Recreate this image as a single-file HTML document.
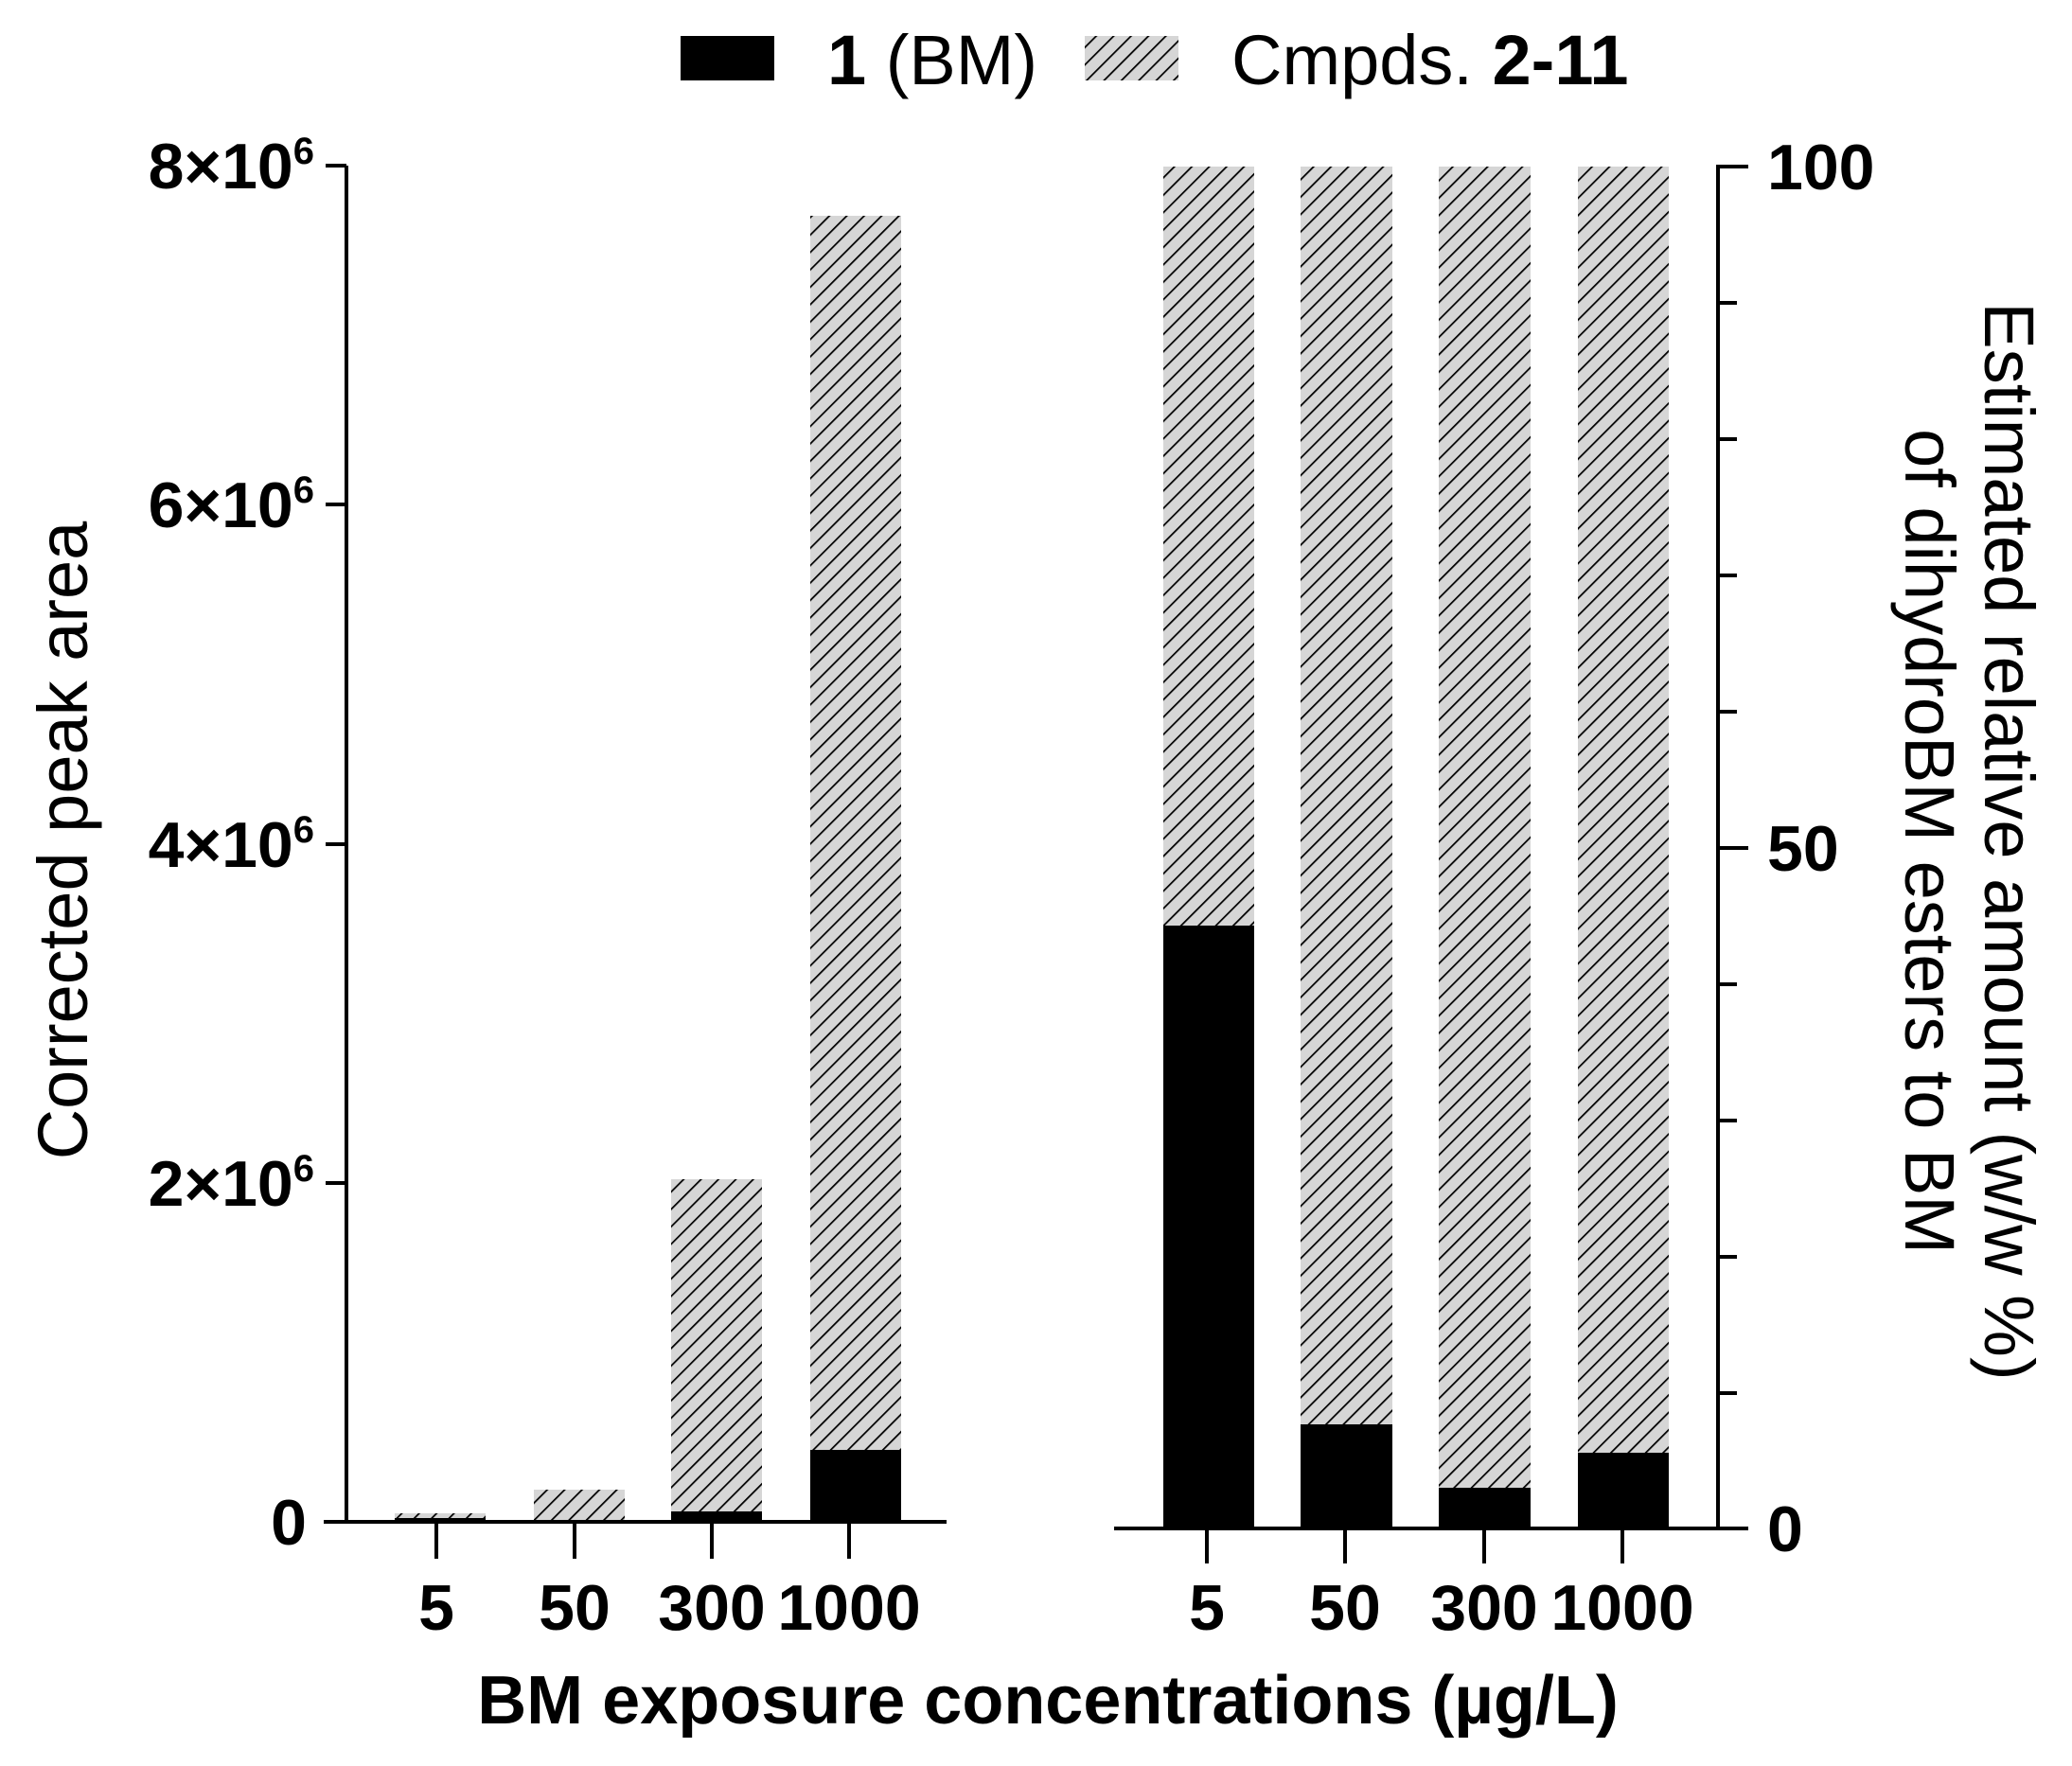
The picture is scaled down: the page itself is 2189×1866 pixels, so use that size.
<!DOCTYPE html>
<html><head><meta charset="utf-8"><style>
html,body{margin:0;padding:0;background:#fff;}
svg{display:block;}
text{font-family:"Liberation Sans Narrow","Liberation Sans",sans-serif;fill:#000;}
</style></head><body>
<svg width="2189" height="1866" viewBox="0 0 2189 1866" xmlns="http://www.w3.org/2000/svg">
<defs>
<pattern id="h" patternUnits="userSpaceOnUse" width="13" height="13" patternTransform="rotate(45)">
<rect width="13" height="13" fill="#d6d6d6"/>
<line x1="0" y1="0" x2="0" y2="13" stroke="#000" stroke-width="3.5"/>
</pattern>
</defs>

<!-- Legend -->
<rect x="719" y="38" width="99" height="47" fill="#000"/>
<text x="874" y="89" font-size="74"><tspan font-weight="bold">1</tspan> (BM)</text>
<rect x="1146" y="38" width="99" height="47" fill="url(#h)"/>
<text x="1301" y="89" font-size="74">Cmpds. <tspan font-weight="bold">2-11</tspan></text>

<!-- Left panel bars -->
<rect x="417" y="1599" width="96" height="8" fill="url(#h)"/>
<rect x="417" y="1604" width="96" height="3" fill="#000"/>
<rect x="564" y="1574" width="96" height="33" fill="url(#h)"/>
<rect x="709" y="1246" width="96" height="361" fill="url(#h)"/>
<rect x="709" y="1597" width="96" height="10" fill="#000"/>
<rect x="856" y="228" width="96" height="1379" fill="url(#h)"/>
<rect x="856" y="1532" width="96" height="75" fill="#000"/>

<!-- Left axes -->
<g stroke="#000" stroke-width="4" fill="none">
<line x1="366" y1="175" x2="366" y2="1609"/>
<line x1="342" y1="1608" x2="1000" y2="1608"/>
<line x1="344" y1="175" x2="366" y2="175"/>
<line x1="344" y1="533" x2="366" y2="533"/>
<line x1="344" y1="892" x2="366" y2="892"/>
<line x1="344" y1="1250" x2="366" y2="1250"/>
<line x1="461" y1="1608" x2="461" y2="1647"/>
<line x1="607" y1="1608" x2="607" y2="1647"/>
<line x1="752" y1="1608" x2="752" y2="1647"/>
<line x1="897" y1="1608" x2="897" y2="1647"/>
</g>
<g font-size="68" font-weight="bold" text-anchor="end">
<text x="332" y="199">8×10<tspan font-size="40" dy="-26">6</tspan></text>
<text x="332" y="557">6×10<tspan font-size="40" dy="-26">6</tspan></text>
<text x="332" y="916">4×10<tspan font-size="40" dy="-26">6</tspan></text>
<text x="332" y="1274">2×10<tspan font-size="40" dy="-26">6</tspan></text>
<text x="324" y="1632">0</text>
</g>
<g font-size="68" font-weight="bold" text-anchor="middle">
<text x="461" y="1722">5</text>
<text x="607" y="1722">50</text>
<text x="752" y="1722">300</text>
<text x="897" y="1722">1000</text>
</g>
<text transform="translate(92,888) rotate(-90)" font-size="74" text-anchor="middle">Corrected peak area</text>

<!-- Right panel bars -->
<rect x="1229" y="176" width="96" height="1439" fill="url(#h)"/>
<rect x="1229" y="978" width="96" height="637" fill="#000"/>
<rect x="1374" y="176" width="97" height="1439" fill="url(#h)"/>
<rect x="1374" y="1505" width="97" height="110" fill="#000"/>
<rect x="1520" y="176" width="97" height="1439" fill="url(#h)"/>
<rect x="1520" y="1572" width="97" height="43" fill="#000"/>
<rect x="1667" y="176" width="96" height="1439" fill="url(#h)"/>
<rect x="1667" y="1535" width="96" height="80" fill="#000"/>

<g stroke="#000" stroke-width="4" fill="none">
<line x1="1815" y1="174" x2="1815" y2="1616"/>
<line x1="1177" y1="1615" x2="1847" y2="1615"/>
<line x1="1815" y1="176" x2="1847" y2="176"/>
<line x1="1815" y1="896" x2="1847" y2="896"/>
<line x1="1815" y1="320" x2="1835" y2="320"/>
<line x1="1815" y1="464" x2="1835" y2="464"/>
<line x1="1815" y1="608" x2="1835" y2="608"/>
<line x1="1815" y1="752" x2="1835" y2="752"/>
<line x1="1815" y1="1040" x2="1835" y2="1040"/>
<line x1="1815" y1="1184" x2="1835" y2="1184"/>
<line x1="1815" y1="1328" x2="1835" y2="1328"/>
<line x1="1815" y1="1472" x2="1835" y2="1472"/>
<line x1="1275" y1="1615" x2="1275" y2="1652"/>
<line x1="1421" y1="1615" x2="1421" y2="1652"/>
<line x1="1568" y1="1615" x2="1568" y2="1652"/>
<line x1="1714" y1="1615" x2="1714" y2="1652"/>
</g>
<g font-size="68" font-weight="bold">
<text x="1867" y="200">100</text>
<text x="1867" y="920">50</text>
<text x="1867" y="1639">0</text>
</g>
<g font-size="68" font-weight="bold" text-anchor="middle">
<text x="1275" y="1722">5</text>
<text x="1421" y="1722">50</text>
<text x="1568" y="1722">300</text>
<text x="1714" y="1722">1000</text>
</g>
<text transform="translate(2097,889) rotate(90)" font-size="74" text-anchor="middle">Estimated relative amount (w/w %)</text>
<text transform="translate(2013,889) rotate(90)" font-size="74" text-anchor="middle">of dihydroBM esters to BM</text>

<text x="1107" y="1821" font-size="72" font-weight="bold" text-anchor="middle">BM exposure concentrations (µg/L)</text>
</svg>
</body></html>
